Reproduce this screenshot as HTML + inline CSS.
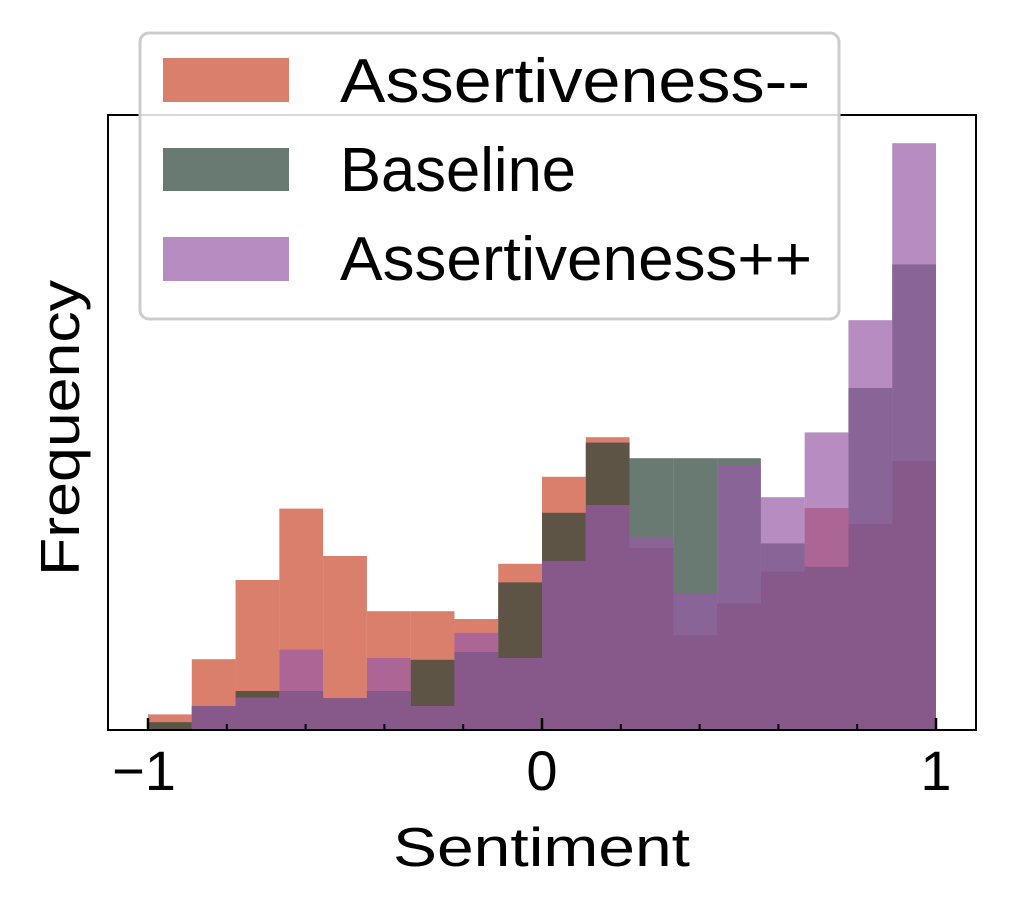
<!DOCTYPE html>
<html><head><meta charset="utf-8"><style>
body{margin:0;background:#fff;}
svg{display:block;font-family:"Liberation Sans",sans-serif;}
</style></head><body>
<svg id="chart" width="1009" height="913" viewBox="0 0 1009 913">
<rect width="1009" height="913" fill="#fff"/>
<g id="bars"></g>
<g id="axes">
<rect x="108" y="115" width="868" height="615" fill="none" stroke="#000" stroke-width="2"/>
</g>
<g id="ticks"></g>
<text x="393" y="866" font-size="55" textLength="297" lengthAdjust="spacingAndGlyphs">Sentiment</text>
<text transform="translate(79,576) rotate(-90)" font-size="55" textLength="296" lengthAdjust="spacingAndGlyphs">Frequency</text>
<g>
<rect x="140" y="33" width="699" height="286" rx="9" fill="#fff" fill-opacity="0.85" stroke="#ccc" stroke-width="3"/>
<g>
<rect x="163" y="58" width="126" height="44" fill="#c9482d" opacity="0.7"/>
<text x="340" y="102" font-size="62" textLength="470" lengthAdjust="spacingAndGlyphs">Assertiveness--</text></g>
<g>
<rect x="163" y="148" width="126" height="43" fill="#2a4236" opacity="0.7"/>
<text x="340" y="191" font-size="62" textLength="236" lengthAdjust="spacingAndGlyphs">Baseline</text></g>
<g>
<rect x="163" y="237" width="126" height="44" fill="#975ba6" opacity="0.7"/>
<text x="340" y="280" font-size="62" textLength="472" lengthAdjust="spacingAndGlyphs">Assertiveness++</text></g>
</g>
</svg>
<script>
const binEdges = [-1, 1];
const binCount = 18;
const minusValues = [2.6,11.8,25,36.9,29,19.8,19.8,18.5,27.7,42.2,48.8,30.3,15.8,21.1,26.4,37,34.3,44.8];
const baselineValues = [1.3,4,6.5,6.5,5.3,6.5,11.7,13,24.6,36.2,47.9,45.3,45.3,45.3,31.1,27.2,57,77.6];
const plusValues = [0,4,5.4,13.4,5.3,12,4,16.2,12,28.2,37.5,32.2,22.8,44.2,38.8,49.6,68.3,97.8];
const majorTicks = [-1, 0, 1];
const majorLabels = ["\u22121", "0", "1"];
const minorTicks = [-0.8,-0.6,-0.4,-0.2,0.2,0.4,0.6,0.8];

const NS = "http://www.w3.org/2000/svg";
const X = v => 542 + v * 394;
const Y = c => 730 - c * 6;
const bars = document.getElementById('bars');
const w = (binEdges[1] - binEdges[0]) / binCount;
function drawSeries(vals, color, name) {
  vals.forEach((v, i) => {
    if (v <= 0) return;
    const r = document.createElementNS(NS, 'rect');
    const x0 = X(binEdges[0] + i * w), x1 = X(binEdges[0] + (i + 1) * w);
    r.setAttribute('x', x0); r.setAttribute('width', x1 - x0);
    r.setAttribute('y', Y(v)); r.setAttribute('height', Y(0) - Y(v));
    r.setAttribute('fill', color); r.setAttribute('opacity', 0.7);
    
    
    bars.appendChild(r);
  });
}
drawSeries(minusValues, '#c9482d', 'assertiveness-minus');
drawSeries(baselineValues, '#2a4236', 'baseline');
drawSeries(plusValues, '#975ba6', 'assertiveness-plus');

const ticks = document.getElementById('ticks');
majorTicks.forEach((t, i) => {
  const l = document.createElementNS(NS, 'line');
  l.setAttribute('x1', X(t)); l.setAttribute('x2', X(t));
  l.setAttribute('y1', 730); l.setAttribute('y2', 718);
  l.setAttribute('stroke', '#000'); l.setAttribute('stroke-width', 2.5);
  
  
  ticks.appendChild(l);
  const tx = document.createElementNS(NS, 'text');
  tx.setAttribute('x', X(t) + (i === 0 ? -4 : 0)); tx.setAttribute('y', 790);
  tx.setAttribute('font-size', 56); tx.setAttribute('text-anchor', 'middle');
  tx.textContent = majorLabels[i];
  
  
  ticks.appendChild(tx);
});
minorTicks.forEach(t => {
  const l = document.createElementNS(NS, 'line');
  l.setAttribute('x1', X(t)); l.setAttribute('x2', X(t));
  l.setAttribute('y1', 730); l.setAttribute('y2', 724);
  l.setAttribute('stroke', '#000'); l.setAttribute('stroke-width', 2);
  
  
  ticks.appendChild(l);
});
</script>
</body></html>
